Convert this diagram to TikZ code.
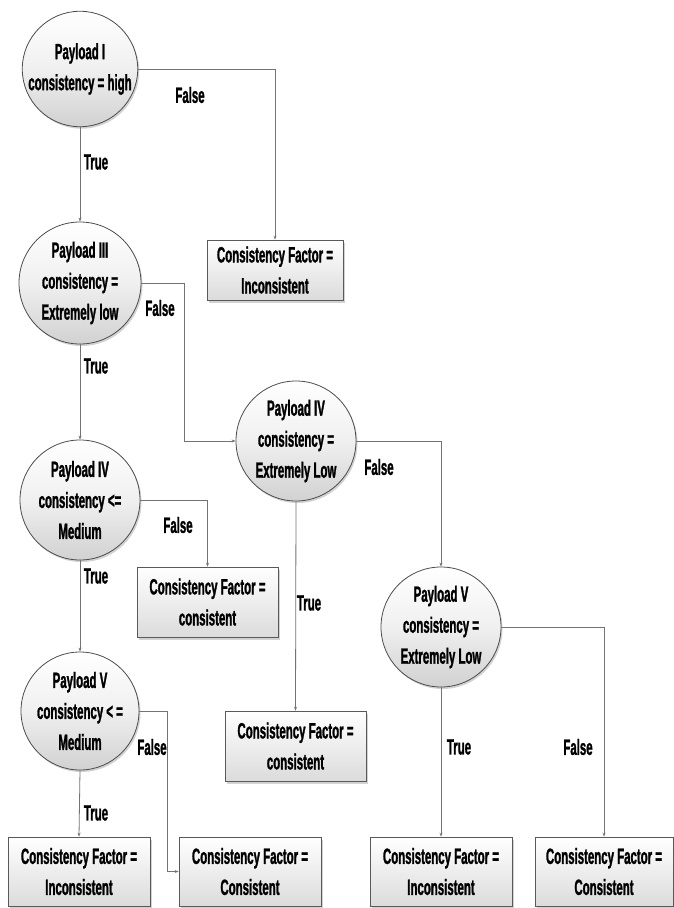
\documentclass[tikz,border=0pt]{standalone}
\usepackage{fontspec}
\setmainfont{Liberation Sans}[FakeStretch=0.52, BoldFeatures={FakeBold=1.2}]
\usetikzlibrary{arrows.meta,shadows}
\begin{document}
\begin{tikzpicture}[x=1pt,y=-1pt,
  every node/.style={font=\bfseries\fontsize{22}{31}\selectfont, text=black},
  dec/.style={circle, draw=black!70, line width=0.8pt, inner sep=0pt, align=center,
    top color=white, bottom color=black!18, middle color=black!6,
    drop shadow={shadow xshift=1.5pt, shadow yshift=-2pt, fill=black!35}},
  res/.style={rectangle, draw=black!65, line width=0.7pt, inner sep=0pt, align=center,
    minimum width=141pt, minimum height=70pt,
    top color=white, bottom color=black!14,
    drop shadow={shadow xshift=2pt, shadow yshift=-2.5pt, fill=black!35}},
  conn/.style={draw=black!55, line width=0.8pt, -{Stealth[length=4pt,width=3pt]}},
  lab/.style={inner sep=0pt}
]
\useasboundingbox (0,0) rectangle (673,908);

% decision nodes
\node[dec, minimum size=114pt] (c1) at (80,69) {Payload I\\consistency = high};
\node[dec, minimum size=122pt] (c3) at (80,283) {Payload III\\consistency =\\Extremely low};
\node[dec, minimum size=120pt] (c4L) at (80,500) {Payload IV\\consistency <=\\Medium};
\node[dec, minimum size=118pt] (c5L) at (80,711) {Payload V\\consistency < =\\Medium};
\node[dec, minimum size=120pt] (c4M) at (296,441) {Payload IV\\consistency =\\Extremely Low};
\node[dec, minimum size=120pt] (c5R) at (441,627) {Payload V\\consistency =\\Extremely Low};

% result boxes
\node[res, minimum width=136pt, minimum height=60pt] (bA) at (275,270) {Consistency Factor =\\Inconsistent};
\node[res] (bB) at (207.5,602) {Consistency Factor =\\consistent};
\node[res] (bM) at (295.5,746) {Consistency Factor =\\consistent};
\node[res, minimum height=69pt, minimum width=142pt] (bBL) at (79,871.5) {Consistency Factor =\\Inconsistent};
\node[res, minimum height=69pt, minimum width=142pt] (bBC) at (250,871.5) {Consistency Factor =\\Consistent};
\node[res, minimum height=69pt, minimum width=142pt] (bBR1) at (441,871.5) {Consistency Factor =\\Inconsistent};
\node[res, minimum height=69pt, minimum width=138pt] (bBR2) at (604,871.5) {Consistency Factor =\\Consistent};

% bend points
\coordinate (k1) at (184,283);
\coordinate (k2) at (167,871.5);

% connectors
\draw[conn] (c1.east) -| (bA.north);
\draw[conn] (c1.south) -- (c3.north);
\draw[conn] (c3.east) -- (k1) |- (c4M.west);
\draw[conn] (c3.south) -- (c4L.north);
\draw[conn] (c4L.east) -| (bB.north);
\draw[conn] (c4L.south) -- (c5L.north);
\draw[conn] (c5L.east) -| (k2) -- (bBC.west);
\draw[conn] (c5L.south) -- (bBL.north);
\draw[conn] (c4M.east) -| (c5R.north);
\draw[conn] (c4M.south) -- (bM.north);
\draw[conn] (c5R.south) -- (bBR1.north);
\draw[conn] (c5R.east) -| (bBR2.north);

% labels
\node[lab] (l1) at (190,95) {False};
\node[lab] (l2) at (96,162) {True};
\node[lab] (l3) at (160,308) {False};
\node[lab] (l4) at (96,366) {True};
\node[lab] (l5) at (178,525) {False};
\node[lab] (l6) at (96,576) {True};
\node[lab] (l7) at (379,467) {False};
\node[lab] (l8) at (309,603) {True};
\node[lab] (l9) at (152,747) {False};
\node[lab] (l10) at (96,813) {True};
\node[lab] (l11) at (459,747) {True};
\node[lab] (l12) at (578,747) {False};
\end{tikzpicture}
\end{document}
